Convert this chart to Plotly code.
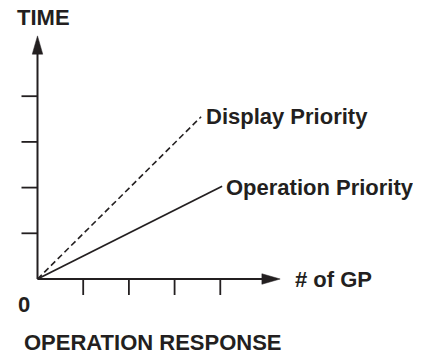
import plotly.graph_objects as go

# ---- data (in axis units) ----
display_x = [0, 3.58]
display_y = [0, 3.55]
operation_x = [0, 4.04]
operation_y = [0, 2.03]
x_ticks = [1, 2, 3, 4]
y_ticks = [1, 2, 3, 4]
series_labels = ["Display Priority", "Operation Priority"]
x_label = "# of GP"
y_label = "TIME"
origin_label = "0"
title_label = "OPERATION RESPONSE"

INK = "#231f20"
FONT = dict(family="Liberation Sans, Arial, sans-serif", size=22, color=INK, weight="bold")

x_arrow_tip, x_arrow_base = 5.31, 4.91
y_arrow_tip, y_arrow_base = 5.32, 4.92
arrow_half = 0.115
tick_len = 0.35

fig = go.Figure()

# series lines
fig.add_trace(go.Scatter(x=display_x, y=display_y, mode="lines",
                         line=dict(color=INK, width=1.6, dash="6px,3.5px"),
                         hoverinfo="skip", showlegend=False))
fig.add_trace(go.Scatter(x=operation_x, y=operation_y, mode="lines",
                         line=dict(color=INK, width=1.8),
                         hoverinfo="skip", showlegend=False))

shapes = []
# axes
shapes.append(dict(type="line", x0=0, y0=0, x1=x_arrow_base + 0.02, y1=0, line=dict(color=INK, width=2)))
shapes.append(dict(type="line", x0=0, y0=0, x1=0, y1=y_arrow_base + 0.02, line=dict(color=INK, width=2)))
# arrowheads
shapes.append(dict(type="path",
                   path=f"M {x_arrow_tip},0 L {x_arrow_base},{arrow_half} L {x_arrow_base},{-arrow_half} Z",
                   fillcolor=INK, line=dict(color=INK, width=0.5)))
shapes.append(dict(type="path",
                   path=f"M 0,{y_arrow_tip} L {-arrow_half},{y_arrow_base} L {arrow_half},{y_arrow_base} Z",
                   fillcolor=INK, line=dict(color=INK, width=0.5)))
# ticks
for t in x_ticks:
    shapes.append(dict(type="line", x0=t, y0=0, x1=t, y1=-tick_len, line=dict(color=INK, width=1.8)))
for t in y_ticks:
    shapes.append(dict(type="line", x0=0, y0=t, x1=-tick_len, y1=t, line=dict(color=INK, width=1.8)))

annotations = [
    dict(x=-0.49, y=5.72, text=y_label, xanchor="left", yanchor="middle"),
    dict(x=display_x[1] + 0.07, y=display_y[1] + 0.0, text=series_labels[0], xanchor="left", yanchor="middle"),
    dict(x=operation_x[1] + 0.05, y=operation_y[1] - 0.02, text=series_labels[1], xanchor="left", yanchor="middle"),
    dict(x=5.59, y=0.0, text=x_label, xanchor="left", yanchor="middle"),
    dict(x=-0.46, y=-0.55, text=origin_label, xanchor="left", yanchor="middle"),
    dict(x=-0.33, y=-1.39, text=title_label, xanchor="left", yanchor="middle"),
]
for a in annotations:
    a.update(showarrow=False, font=FONT, xref="x", yref="y")

fig.update_layout(
    width=421, height=355,
    margin=dict(l=0, r=0, t=0, b=0),
    paper_bgcolor="white", plot_bgcolor="white",
    shapes=shapes, annotations=annotations,
    xaxis=dict(range=[-0.6455, 8.567], visible=False, fixedrange=True),
    yaxis=dict(range=[-1.838, 5.930], visible=False, fixedrange=True),
    showlegend=False,
)

fig.write_html("out.html", config={"displayModeBar": False})
